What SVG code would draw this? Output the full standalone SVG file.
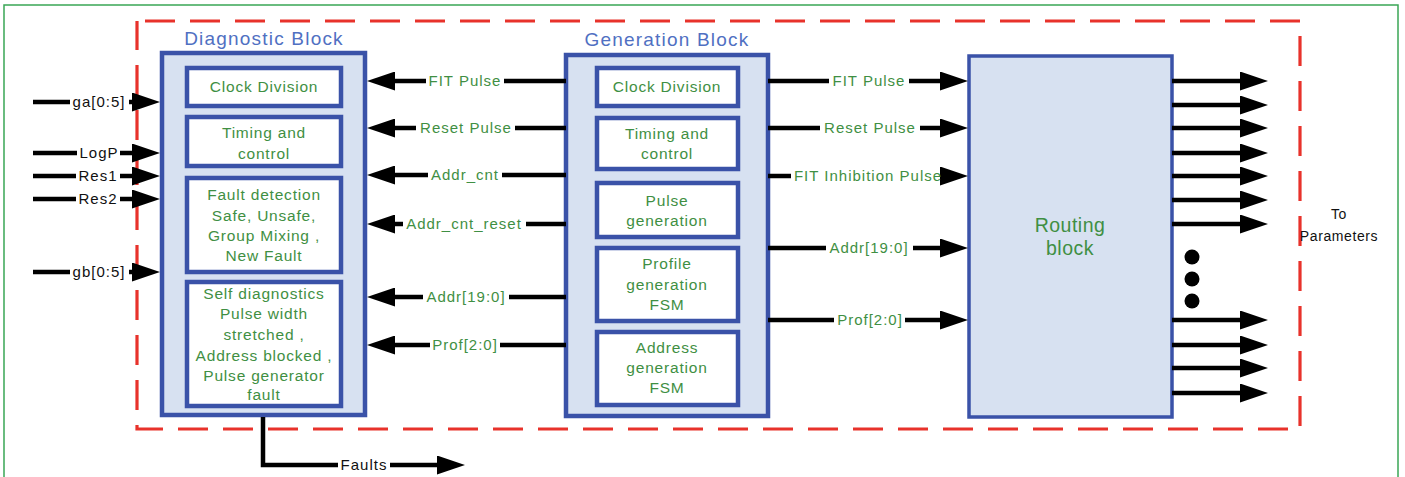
<svg xmlns="http://www.w3.org/2000/svg" width="1405" height="477" viewBox="0 0 1405 477">
<defs>
<style>
.frame{fill:none;stroke:#3aa655;stroke-width:1.5}
.dash{fill:none;stroke:#e8322b;stroke-width:3.2;stroke-dasharray:30 15;stroke-dashoffset:-8}
.outer{fill:#d7e1f1;stroke:#3a52a8;stroke-width:4.5}
.route{fill:#d7e1f1;stroke:#3a52a8;stroke-width:3.5}
.box{fill:#fff;stroke:#3a52a8;stroke-width:4.5}
text{font-family:"Liberation Sans",Arial,Helvetica,sans-serif;text-anchor:middle}
.t{font-size:15.5px;fill:#3f8f43;letter-spacing:0.8px}
.title{font-size:19px;fill:#5070c2;letter-spacing:1.2px}
.big{font-size:19.5px;fill:#3f8f43;letter-spacing:0.5px}
.lbl{font-size:15px;letter-spacing:1px;fill:#3f8f43}
.blk{fill:#111}
.plain{font-size:14px;fill:#111;letter-spacing:0.6px}
.w{stroke:#000;stroke-width:4.5;fill:none}
.wire{stroke:#000;stroke-width:4.5;fill:none;marker-end:url(#ah)}
</style>
<marker id="ah" markerUnits="userSpaceOnUse" viewBox="0 0 28 19" markerWidth="28" markerHeight="19" refX="18" refY="9.5" orient="auto">
<path d="M0,0 L28,9.5 L0,19 z" fill="#000"/>
</marker>
</defs>
<rect class="frame" x="4" y="5" width="1394" height="490"/>
<rect class="dash" x="137" y="21" width="1163" height="408"/>

<g id="diagnostic-block">
<text class="title" x="264" y="45">Diagnostic Block</text>
<rect class="outer" x="162" y="53" width="203" height="362"/>
<g id="diag-clock"><rect class="box" x="187" y="68" width="154" height="38"/><text class="t" x="264" y="91.5">Clock Division</text></g>
<g id="diag-timing"><rect class="box" x="187" y="117" width="154" height="49"/><text class="t" x="264" y="137.5">Timing and</text><text class="t" x="264" y="158.5">control</text></g>
<g id="diag-fault"><rect class="box" x="187" y="178" width="154" height="94"/><text class="t" x="264" y="199.5">Fault detection</text><text class="t" x="264" y="220.5">Safe, Unsafe,</text><text class="t" x="264" y="240.5">Group Mixing ,</text><text class="t" x="264" y="260.5">New Fault</text></g>
<g id="diag-self"><rect class="box" x="187" y="282" width="154" height="124"/><text class="t" x="264" y="298.5">Self diagnostics</text><text class="t" x="264" y="318.5">Pulse width</text><text class="t" x="264" y="339.5">stretched ,</text><text class="t" x="264" y="360.5">Address blocked ,</text><text class="t" x="264" y="380.5">Pulse generator</text><text class="t" x="264" y="399.5">fault</text></g>
</g>

<g id="generation-block">
<text class="title" x="667" y="46">Generation Block</text>
<rect class="outer" x="566" y="55" width="202" height="361"/>
<g id="gen-clock"><rect class="box" x="597" y="68" width="141" height="38"/><text class="t" x="667" y="91.5">Clock Division</text></g>
<g id="gen-timing"><rect class="box" x="597" y="118" width="141" height="51"/><text class="t" x="667" y="138.5">Timing and</text><text class="t" x="667" y="158.5">control</text></g>
<g id="gen-pulse"><rect class="box" x="597" y="183" width="141" height="54"/><text class="t" x="667" y="205.5">Pulse</text><text class="t" x="667" y="225.5">generation</text></g>
<g id="gen-profile"><rect class="box" x="597" y="248" width="141" height="73"/><text class="t" x="667" y="268.5">Profile</text><text class="t" x="667" y="289.5">generation</text><text class="t" x="667" y="309.5">FSM</text></g>
<g id="gen-address"><rect class="box" x="597" y="332" width="141" height="73"/><text class="t" x="667" y="352.5">Address</text><text class="t" x="667" y="372.5">generation</text><text class="t" x="667" y="392.5">FSM</text></g>
</g>

<g id="routing-block">
<rect class="route" x="969" y="56" width="203" height="361"/>
<text class="big" x="1070" y="232">Routing</text>
<text class="big" x="1070" y="255">block</text>
</g>

<g id="connectors">
<!-- generation -> diagnostic -->
<path class="w" d="M566,81 H504"/><path class="wire" d="M426,81 H377"/>
<path class="w" d="M566,128 H515"/><path class="wire" d="M416,128 H377"/>
<path class="w" d="M566,175 H502"/><path class="wire" d="M428,175 H377"/>
<path class="w" d="M566,224 H526"/><path class="wire" d="M403,224 H377"/>
<path class="w" d="M566,297 H509"/><path class="wire" d="M423,297 H377"/>
<path class="w" d="M566,345 H500"/><path class="wire" d="M430,345 H377"/>
<text class="lbl" x="465" y="86">FIT Pulse</text>
<text class="lbl" x="466" y="133">Reset Pulse</text>
<text class="lbl" x="465" y="180">Addr_cnt</text>
<text class="lbl" x="464" y="229">Addr_cnt_reset</text>
<text class="lbl" x="466" y="302">Addr[19:0]</text>
<text class="lbl" x="465" y="350">Prof[2:0]</text>

<!-- generation -> routing -->
<path class="w" d="M768,81 H829"/><path class="wire" d="M909,81 H958"/>
<path class="w" d="M768,128 H820"/><path class="wire" d="M920,128 H958"/>
<path class="w" d="M768,176 H791"/><path class="wire" d="M946,176 H958"/>
<path class="w" d="M768,248 H826"/><path class="wire" d="M913,248 H958"/>
<path class="w" d="M768,320 H834"/><path class="wire" d="M905,320 H958"/>
<text class="lbl" x="869" y="86">FIT Pulse</text>
<text class="lbl" x="870" y="133">Reset Pulse</text>
<text class="lbl" x="868" y="181">FIT Inhibition Pulse</text>
<text class="lbl" x="869" y="253">Addr[19:0]</text>
<text class="lbl" x="870" y="325">Prof[2:0]</text>

<!-- inputs -->
<path class="w" d="M33,102 H70"/><path class="wire" d="M129,102 H150"/>
<path class="w" d="M33,153 H77"/><path class="wire" d="M120,153 H150"/>
<path class="w" d="M33,176 H76"/><path class="wire" d="M120,176 H150"/>
<path class="w" d="M33,199 H76"/><path class="wire" d="M120,199 H150"/>
<path class="w" d="M33,272 H70"/><path class="wire" d="M129,272 H150"/>
<text class="lbl blk" x="99" y="107">ga[0:5]</text>
<text class="lbl blk" x="99" y="158">LogP</text>
<text class="lbl blk" x="98" y="181">Res1</text>
<text class="lbl blk" x="98" y="204">Res2</text>
<text class="lbl blk" x="99" y="277">gb[0:5]</text>

<!-- faults -->
<path class="w" d="M263,417 V465 H338"/><path class="wire" d="M390,465 H455"/>
<text class="lbl blk" x="364" y="470">Faults</text>

<!-- outputs -->
<path class="wire" d="M1172,81 H1258"/>
<path class="wire" d="M1172,105 H1258"/>
<path class="wire" d="M1172,128 H1258"/>
<path class="wire" d="M1172,153 H1258"/>
<path class="wire" d="M1172,176 H1258"/>
<path class="wire" d="M1172,200 H1258"/>
<path class="wire" d="M1172,224 H1258"/>
<path class="wire" d="M1172,320 H1258"/>
<path class="wire" d="M1172,345 H1258"/>
<path class="wire" d="M1172,368 H1258"/>
<path class="wire" d="M1172,393 H1258"/>
<circle cx="1192" cy="257" r="7.5" fill="#000"/>
<circle cx="1192" cy="279" r="7.5" fill="#000"/>
<circle cx="1192" cy="301" r="7.5" fill="#000"/>
</g>

<g id="to-parameters">
<text class="plain" x="1339" y="219">To</text>
<text class="plain" x="1339" y="241">Parameters</text>
</g>
</svg>
